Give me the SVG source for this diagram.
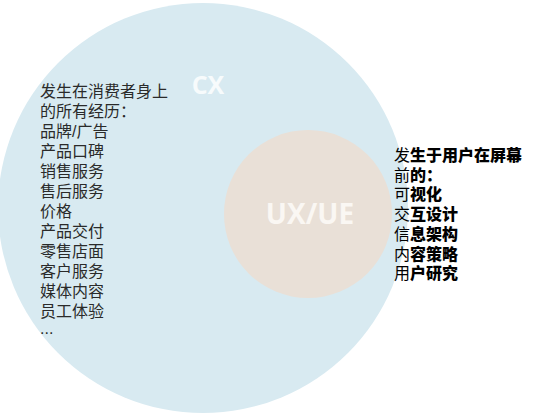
<svg xmlns="http://www.w3.org/2000/svg" width="534" height="414" viewBox="0 0 534 414">
<style>
.lt{font-family:"Liberation Sans","Noto Sans CJK SC",sans-serif;font-size:16px;fill:#2a2a2a}
.rt{font-family:"Liberation Sans","Noto Sans CJK SC",sans-serif;font-size:16px;fill:#000}
.b{font-weight:900}
.lbl{font-family:"Open Sans","Noto Sans",sans-serif;font-weight:700;text-anchor:middle}
</style>
<rect width="534" height="414" fill="#ffffff"/>
<g id="cx">
<circle cx="203" cy="208" r="205" fill="#d8eaf1"/>
<text class="lbl" x="208" y="94" font-size="25" fill="#f7fbfc">CX</text>
</g>
<g id="ux">
<circle cx="308" cy="214" r="84" fill="#e9e0d7"/>
<text class="lbl" x="310" y="224" font-size="28" fill="#faf7f3">UX/UE</text>
</g>
<g id="cx-text">
<text class="lt" x="40" y="97"><tspan x="40" y="97">发生在消费者身上</tspan><tspan x="40" dy="20">的所有经历：</tspan><tspan x="40" dy="20">品牌/广告</tspan><tspan x="40" dy="20">产品口碑</tspan><tspan x="40" dy="20">销售服务</tspan><tspan x="40" dy="20">售后服务</tspan><tspan x="40" dy="20">价格</tspan><tspan x="40" dy="20">产品交付</tspan><tspan x="40" dy="20">零售店面</tspan><tspan x="40" dy="20">客户服务</tspan><tspan x="40" dy="20">媒体内容</tspan><tspan x="40" dy="20">员工体验</tspan><tspan x="40" dy="17">...</tspan></text>
</g>
<g id="ux-text">
<text class="rt"><tspan x="394" y="161">发</tspan><tspan class="b">生于用户在屏幕</tspan><tspan x="394" y="181">前</tspan><tspan class="b">的：</tspan><tspan x="394" y="200">可</tspan><tspan class="b">视化</tspan><tspan x="394" y="220">交</tspan><tspan class="b">互设计</tspan><tspan x="394" y="240">信</tspan><tspan class="b">息架构</tspan><tspan x="394" y="260">内</tspan><tspan class="b">容策略</tspan><tspan x="394" y="279">用</tspan><tspan class="b">户研究</tspan></text>
</g>
</svg>
